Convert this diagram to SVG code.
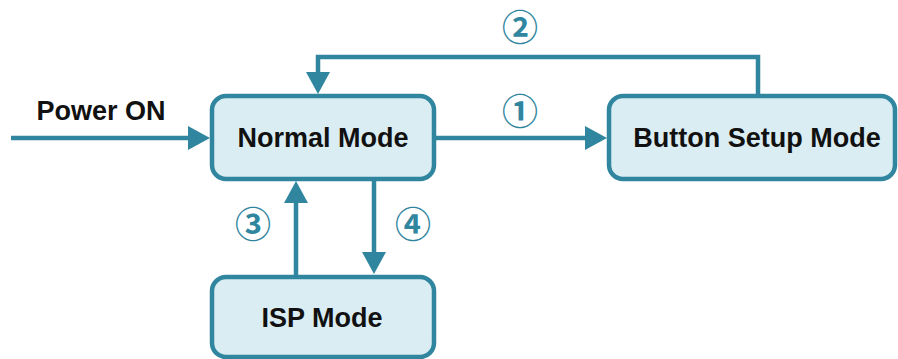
<svg xmlns="http://www.w3.org/2000/svg" width="898" height="359" viewBox="0 0 898 359">
  <style>
    .box { fill: #daedf3; stroke: #31869f; stroke-width: 4.5; }
    .lbl { font-family: "Liberation Sans", Arial, sans-serif; font-weight: bold; font-size: 27px; fill: #111111; text-anchor: middle; }
    .num { font-family: "Noto Sans CJK KR", "DejaVu Sans", sans-serif; font-weight: bold; font-size: 36px; fill: #31869f; text-anchor: middle; }
    .conn { fill: none; stroke: #31869f; stroke-width: 4.5; marker-end: url(#ah); }
  </style>
  <defs>
    <marker id="ah" viewBox="0 0 22 24" refX="0" refY="12" markerWidth="22" markerHeight="24" markerUnits="userSpaceOnUse" orient="auto">
      <path d="M0,0 L22,12 L0,24 Z" fill="#31869f"/>
    </marker>
  </defs>
  <rect width="898" height="359" fill="#ffffff"/>
  <g id="connectors">
    <path class="conn" d="M11,138 H188"/>
    <path class="conn" d="M436,138 H585"/>
    <path class="conn" d="M758,94 V57 H318 V72"/>
    <path class="conn" d="M296,275 V203"/>
    <path class="conn" d="M374,181 V252"/>
  </g>
  <g id="labels">
    <text class="lbl" x="101" y="120">Power ON</text>
    <text class="num" x="520" y="41">②</text>
    <text class="num" x="520" y="125">①</text>
    <text class="num" x="253" y="238">③</text>
    <text class="num" x="413" y="238">④</text>
  </g>
  <g id="normal-mode">
    <rect class="box" x="212" y="96" width="222" height="83" rx="14"/>
    <text class="lbl" x="323" y="147">Normal Mode</text>
  </g>
  <g id="button-setup-mode">
    <rect class="box" x="609" y="96" width="286" height="83" rx="14"/>
    <text class="lbl" x="757" y="147">Button Setup Mode</text>
  </g>
  <g id="isp-mode">
    <rect class="box" x="212" y="277" width="222" height="80" rx="14"/>
    <text class="lbl" x="322" y="327">ISP Mode</text>
  </g>
</svg>
